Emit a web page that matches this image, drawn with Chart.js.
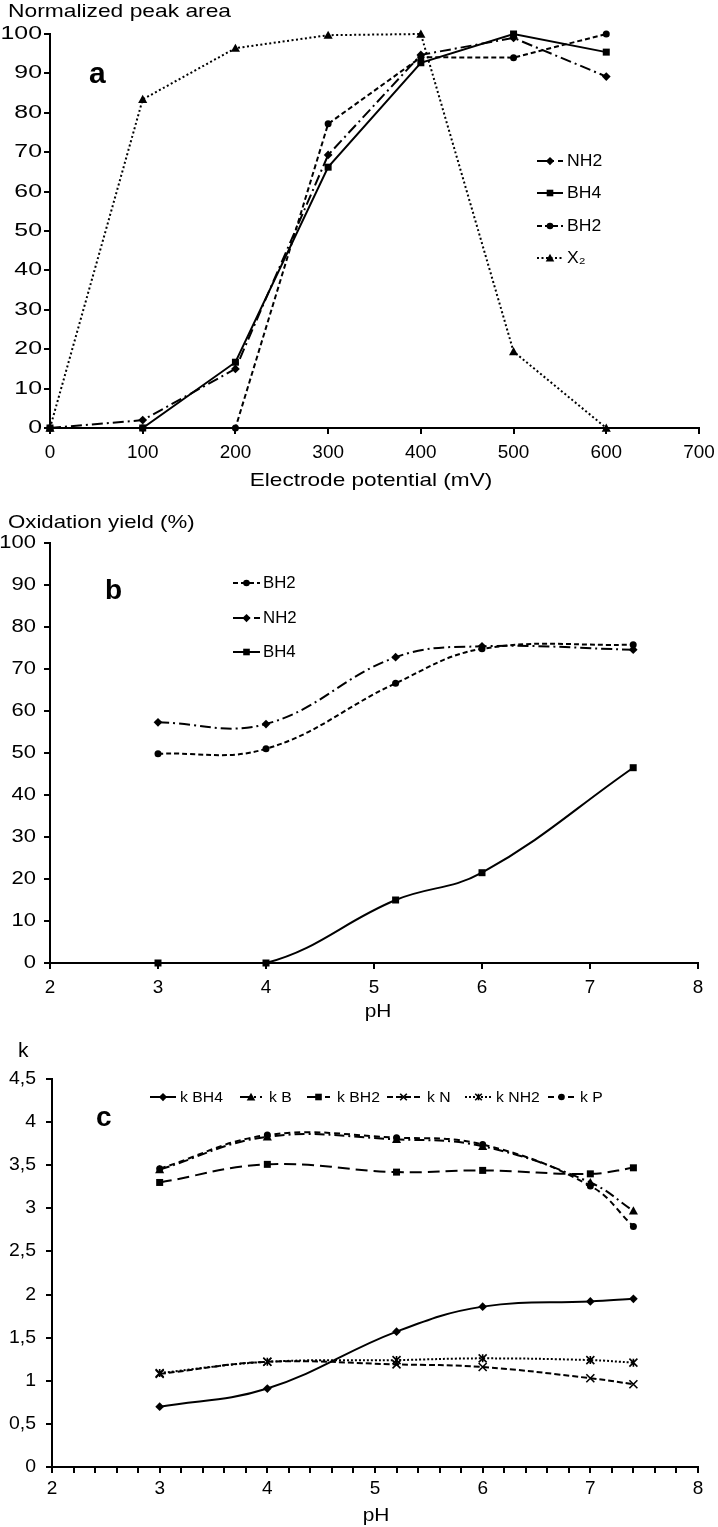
<!DOCTYPE html>
<html><head><meta charset="utf-8">
<script src="https://cdn.jsdelivr.net/npm/chart.js@4.4.1/dist/chart.umd.min.js"></script>
<style>
html,body{margin:0;padding:0;background:#fff;}
body{width:718px;height:1527px;position:relative;overflow:hidden;font-family:"Liberation Sans",Arial,sans-serif;color:#000;}
.p{position:absolute;left:0;width:718px;}
.t{position:absolute;white-space:nowrap;font-size:19px;line-height:19px;z-index:5;transform-origin:0 0;}
.tc{position:absolute;white-space:nowrap;font-size:19px;line-height:19px;z-index:5;text-align:center;}
.lbl{position:absolute;white-space:nowrap;font-weight:bold;z-index:5;}
</style></head><body>
<div class="p" style="top:0"><canvas id="ca" width="718" height="490"></canvas></div>
<div class="p" style="top:490px"><canvas id="cb" width="718" height="530"></canvas></div>
<div class="p" style="top:1030px"><canvas id="cc" width="718" height="497"></canvas></div>

<div class="t" style="left:8px;top:1px;transform:scaleX(1.2)">Normalized peak area</div>
<div class="tc" style="left:171px;width:400px;top:470px;transform:scaleX(1.19)">Electrode potential (mV)</div>
<div class="t" style="left:8px;top:512px;transform:scaleX(1.17)">Oxidation yield (%)</div>
<div class="tc" style="left:278px;width:200px;top:1001px;transform:scaleX(1.1)">pH</div>
<div class="t" style="left:18px;top:1039px;font-size:21px;line-height:21px">k</div>
<div class="tc" style="left:276px;width:200px;top:1505px;transform:scaleX(1.1)">pH</div>
<div class="lbl" style="left:89px;top:58px;font-size:30px;line-height:30px">a</div>
<div class="lbl" style="left:105px;top:576px;font-size:28px;line-height:28px">b</div>
<div class="lbl" style="left:96px;top:1103px;font-size:28px;line-height:28px">c</div>

<script>
// ---------- Panel a data ----------
const aPotential = [0, 100, 200, 300, 400, 500, 600];
const aNH2 = [0, 2, 15, 69.3, 94.7, 99, 89.2];
const aBH4 = [0, 0, 16.7, 66.2, 92.7, 100, 95.4];
const aBH2 = [0, 0, 0, 77.2, 94.1, 94, 100];
const aX2  = [0, 83.4, 96.4, 99.7, 100, 19.4, 0];
const aLabels = ['NH2', 'BH4', 'BH2', 'X\u2082'];

// ---------- Panel b data ----------
const bPH = [3, 4, 5.2, 6, 7.4];
const bBH2 = [49.8, 51, 66.6, 74.8, 75.8];
const bNH2 = [57.3, 56.9, 72.8, 75.4, 74.6];
const bBH4 = [0, 0, 15, 21.5, 46.5];
const bLabels = ['BH2', 'NH2', 'BH4'];

// ---------- Panel c data ----------
const cPH = [3, 4, 5.2, 6, 7, 7.4];
const cBH4 = [0.70, 0.91, 1.57, 1.86, 1.92, 1.95];
const cB   = [3.45, 3.83, 3.80, 3.72, 3.30, 2.97];
const cBH2 = [3.30, 3.51, 3.42, 3.44, 3.40, 3.47];
const cN   = [1.08, 1.22, 1.19, 1.16, 1.03, 0.96];
const cNH2 = [1.09, 1.22, 1.24, 1.26, 1.24, 1.21];
const cP   = [3.46, 3.85, 3.82, 3.74, 3.26, 2.79];
const cLabels = ['k BH4', 'k B', 'k BH2', 'k N', 'k NH2', 'k P'];

const FONT = '"Liberation Sans", Arial, sans-serif';
const pts = (xs, ys) => xs.map((x, i) => ({x: x, y: ys[i]}));

function drawMarker(ctx, style, x, y, r) {
  ctx.save();
  ctx.setLineDash([]);
  ctx.fillStyle = '#000'; ctx.strokeStyle = '#000'; ctx.lineWidth = 1.6;
  ctx.beginPath();
  if (style === 'circle') { ctx.arc(x, y, r, 0, Math.PI * 2); ctx.fill(); }
  else if (style === 'rect') { ctx.rect(x - r, y - r, 2 * r, 2 * r); ctx.fill(); }
  else if (style === 'rectRot') { const q = r * 1.25; ctx.moveTo(x, y - q); ctx.lineTo(x + q, y); ctx.lineTo(x, y + q); ctx.lineTo(x - q, y); ctx.closePath(); ctx.fill(); }
  else if (style === 'triangle') { const q = r * 1.3; ctx.moveTo(x, y - q); ctx.lineTo(x + q, y + q * 0.8); ctx.lineTo(x - q, y + q * 0.8); ctx.closePath(); ctx.fill(); }
  else if (style === 'crossRot') { ctx.moveTo(x - r, y - r); ctx.lineTo(x + r, y + r); ctx.moveTo(x + r, y - r); ctx.lineTo(x - r, y + r); ctx.stroke(); }
  else if (style === 'star') { ctx.moveTo(x - r, y - r); ctx.lineTo(x + r, y + r); ctx.moveTo(x + r, y - r); ctx.lineTo(x - r, y + r); ctx.moveTo(x, y - r); ctx.lineTo(x, y + r); ctx.stroke(); }
  ctx.restore();
}

const legendPlugin = {
  id: 'inLegend',
  afterDraw(chart, args, opts) {
    if (!opts || !opts.items) return;
    const ctx = chart.ctx;
    opts.items.forEach((it, i) => {
      const ds = chart.data.datasets[i];
      ctx.save();
      ctx.strokeStyle = '#000';
      ctx.lineWidth = 2;
      ctx.setLineDash(ds.borderDash || []);
      ctx.beginPath();
      ctx.moveTo(it.x0, it.y);
      ctx.lineTo(it.x1, it.y);
      ctx.stroke();
      ctx.restore();
      drawMarker(ctx, ds.pointStyle, (it.x0 + it.x1) / 2, it.y, 3.3);
      ctx.save();
      ctx.fillStyle = '#000';
      ctx.font = opts.font;
      ctx.textBaseline = 'middle';
      ctx.textAlign = 'left';
      ctx.translate(it.tx, it.y + 1);
      ctx.scale(opts.sx || 1, 1);
      ctx.fillText(ds.label, 0, 0);
      ctx.restore();
    });
  }
};

const markerPlugin = {
  id: 'markers',
  afterDatasetsDraw(chart) {
    const ctx = chart.ctx;
    chart.data.datasets.forEach((ds, di) => {
      const meta = chart.getDatasetMeta(di);
      meta.data.forEach(el => drawMarker(ctx, ds.pointStyle, el.x, el.y, ds.mRadius || 3.5));
    });
  }
};

// draws the library's own tick labels (from each scale) with a horizontal stretch
const tickTextPlugin = {
  id: 'tickText',
  afterDraw(chart, args, o) {
    const ctx = chart.ctx;
    ['x', 'y'].forEach(id => {
      const s = chart.scales[id];
      const c = o[id];
      s.ticks.forEach(t => {
        const label = t.label;
        if (label === '' || label === undefined || label === null) return;
        const p = s.getPixelForValue(t.value);
        ctx.save();
        ctx.fillStyle = '#000';
        ctx.font = c.size + 'px ' + FONT;
        ctx.textBaseline = 'middle';
        if (id === 'x') { ctx.translate(p, s.top + c.off); ctx.textAlign = 'center'; }
        else { ctx.translate(s.right - c.off, p); ctx.textAlign = 'right'; }
        ctx.scale(c.sx, 1);
        ctx.fillText(String(label), 0, 0);
        ctx.restore();
      });
    });
  }
};

function ds(label, xs, ys, dash, style, tension, extra) {
  return Object.assign({
    label: label,
    data: pts(xs, ys),
    borderColor: '#000',
    backgroundColor: '#000',
    borderWidth: 2,
    borderDash: dash,
    borderCapStyle: 'butt',
    pointStyle: style,
    pointRadius: 0,
    pointHoverRadius: 0,
    tension: tension,
    clip: false,
    fill: false
  }, extra || {});
}

function axis(opts) {
  return {
    type: 'linear',
    min: opts.min, max: opts.max,
    afterFit: opts.fit,
    ticks: Object.assign({
      stepSize: opts.step,
      color: 'rgba(0,0,0,0)',
      font: {size: 18, family: FONT},
      padding: 4,
      autoSkip: false,
      maxRotation: 0,
      includeBounds: true
    }, opts.ticks || {}),
    grid: {drawOnChartArea: false, drawTicks: true, tickLength: 6, color: '#000', lineWidth: 2},
    border: {color: '#000', width: 2}
  };
}

const common = {
  responsive: false,
  animation: false,
  devicePixelRatio: 1,
  events: [],
};

// ---------- Chart a ----------
new Chart(document.getElementById('ca'), {
  type: 'line',
  data: {
    datasets: [
      ds(aLabels[0], aPotential, aNH2, [11, 4, 2, 4], 'rectRot', 0),
      ds(aLabels[1], aPotential, aBH4, [], 'rect', 0),
      ds(aLabels[2], aPotential, aBH2, [5, 3], 'circle', 0),
      ds(aLabels[3], aPotential, aX2, [2, 2.5], 'triangle', 0)
    ]
  },
  options: Object.assign({}, common, {
    layout: {padding: {top: 34, right: 18, left: 0, bottom: 0}},
    plugins: {
      legend: {display: false}, tooltip: {enabled: false},
      tickText: {x: {size: 18, sx: 1.05, off: 25.5}, y: {size: 18, sx: 1.38, off: 8}},
      inLegend: {font: '16px ' + FONT, sx: 1.1, items: [
        {x0: 537, x1: 563, tx: 567, y: 161},
        {x0: 537, x1: 563, tx: 567, y: 193},
        {x0: 537, x1: 563, tx: 567, y: 226},
        {x0: 537, x1: 563, tx: 567, y: 258}
      ]}
    },
    scales: {
      x: axis({min: 0, max: 700, step: 100, fit: s => { s.height = 62; }}),
      y: axis({min: 0, max: 100, step: 10, fit: s => { s.width = 50; }})
    }
  }),
  plugins: [markerPlugin, legendPlugin, tickTextPlugin]
});

// ---------- Chart b ----------
new Chart(document.getElementById('cb'), {
  type: 'line',
  data: {
    datasets: [
      ds(bLabels[0], bPH, bBH2, [5, 3], 'circle', 0.4),
      ds(bLabels[1], bPH, bNH2, [11, 4, 2, 4], 'rectRot', 0.4),
      ds(bLabels[2], bPH, bBH4, [], 'rect', 0.4)
    ]
  },
  options: Object.assign({}, common, {
    layout: {padding: {top: 53, right: 20, left: 0, bottom: 0}},
    plugins: {
      legend: {display: false}, tooltip: {enabled: false},
      tickText: {x: {size: 18, sx: 1.05, off: 25}, y: {size: 18, sx: 1.22, off: 14}},
      inLegend: {font: '16px ' + FONT, sx: 1.05, items: [
        {x0: 233, x1: 260, tx: 263, y: 93},
        {x0: 233, x1: 260, tx: 263, y: 128},
        {x0: 233, x1: 260, tx: 263, y: 162}
      ]}
    },
    scales: {
      x: axis({min: 2, max: 8, step: 1, fit: s => { s.height = 57; }}),
      y: axis({min: 0, max: 100, step: 10, fit: s => { s.width = 50; }})
    }
  }),
  plugins: [markerPlugin, legendPlugin, tickTextPlugin]
});

// ---------- Chart c ----------
new Chart(document.getElementById('cc'), {
  type: 'line',
  data: {
    datasets: [
      ds(cLabels[0], cPH, cBH4, [], 'rectRot', 0.4),
      ds(cLabels[1], cPH, cB, [10, 4, 2, 4], 'triangle', 0.4),
      ds(cLabels[2], cPH, cBH2, [12, 6], 'rect', 0.4),
      ds(cLabels[3], cPH, cN, [6, 3], 'crossRot', 0.4, {mRadius: 4}),
      ds(cLabels[4], cPH, cNH2, [2, 2], 'star', 0.4, {mRadius: 4}),
      ds(cLabels[5], cPH, cP, [6, 4], 'circle', 0.4)
    ]
  },
  options: Object.assign({}, common, {
    layout: {padding: {top: 49, right: 20, left: 0, bottom: 0}},
    plugins: {
      legend: {display: false}, tooltip: {enabled: false},
      tickText: {x: {size: 19, sx: 1.0, off: 22}, y: {size: 18, sx: 1.08, off: 16}},
      inLegend: {font: '15px ' + FONT, sx: 1.05, items: [
        {x0: 150, x1: 176, tx: 180, y: 67},
        {x0: 240, x1: 262, tx: 269, y: 67},
        {x0: 307, x1: 330, tx: 337, y: 67},
        {x0: 387, x1: 420, tx: 427, y: 67},
        {x0: 465, x1: 492, tx: 496, y: 67},
        {x0: 548, x1: 575, tx: 580, y: 67}
      ]}
    },
    scales: {
      x: axis({min: 2, max: 8, step: 0.2, fit: s => { s.height = 60; },
        ticks: {callback: v => Math.abs(v - Math.round(v)) < 1e-6 ? String(Math.round(v)) : ''}}),
      y: axis({min: 0, max: 4.5, step: 0.5, fit: s => { s.width = 52; },
        ticks: {callback: v => String(Math.round(v * 10) / 10).replace('.', ',')}})
    }
  }),
  plugins: [markerPlugin, legendPlugin, tickTextPlugin]
});
</script>
</body></html>
